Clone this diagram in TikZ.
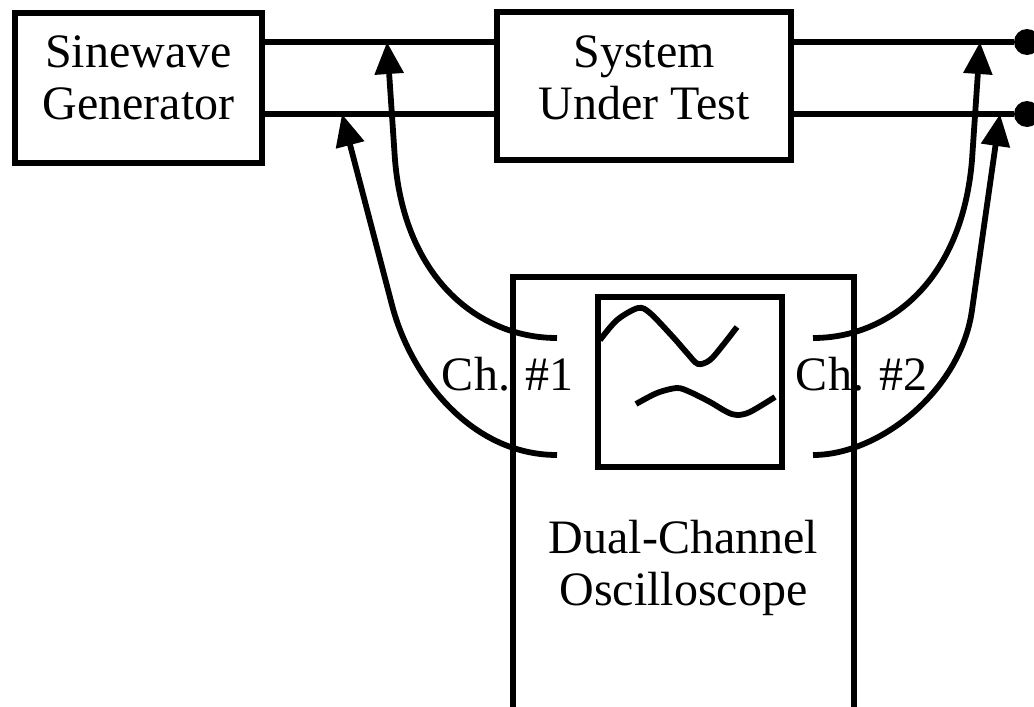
\documentclass[tikz,border=0pt]{standalone}
\usepackage{fontspec}
\setmainfont{Liberation Serif}
\usetikzlibrary{arrows.meta}
\newcommand{\figfont}{\fontsize{24}{26}\selectfont}
\tikzset{
  >={Triangle[length=16pt,width=14pt]},
  blk/.style  ={rectangle, draw, line width=3pt, inner sep=0pt},
  txt/.style  ={font=\figfont, align=center, inner sep=0pt},
  wire/.style ={draw, line width=3pt},
  probe/.style={->, draw, line width=2.9pt},
  trace/.style={draw, line width=2.9pt},
  term/.style ={circle, fill, inner sep=0pt, minimum size=13pt},
}

\begin{document}
\begin{tikzpicture}[x=0.5pt,y=-0.5pt]
\useasboundingbox (0,0) rectangle (1034,707);
\clip (0,0) rectangle (1034,707);
\node[blk, minimum width=123.5pt, minimum height=75pt] (gen) at (138.5,88) {};
\node[txt] (gentxt) at (138.5,77.5) {Sinewave\\Generator};
\node[blk, minimum width=147pt, minimum height=74pt] (sut) at (644,86) {};
\node[txt] (suttxt) at (644,77.5) {System\\Under Test};
\node[term] (outa) at (1027,42) {};
\node[term] (outb) at (1027,114) {};
\draw[wire] (gen.east |- outa) -- (sut.west |- outa);
\draw[wire] (gen.east |- outb) -- (sut.west |- outb);
\draw[wire] (sut.east |- outa) -- (outa);
\draw[wire] (sut.east |- outb) -- (outb);

\node[blk, minimum width=170.5pt, minimum height=250pt] (scope) at (683.5,527) {};
\node[blk, minimum width=92pt, minimum height=85pt] (screen) at (690,382) {};
\node[txt] (scopetxt) at (683.5,567.5) {Dual-Channel\\Oscilloscope};
\node[txt, anchor=base] (ch1) at (508,390) {Ch. \#1};
\node[txt, anchor=base] (ch2) at (862,390) {Ch. \#2};

\draw[trace] plot[smooth] coordinates {(600,340) (617,320) (638,308) (650,313) (673,337) (687,353) (698,364) (710,360) (723,345) (737,327)};
\draw[trace] plot[smooth] coordinates {(636,404) (657,393) (677,388) (690,392) (710,402) (727,412) (737,415) (750,412) (775,397)};

\coordinate (ch1a) at (557,338);
\coordinate (ch1b) at (557,455);
\coordinate (ch2a) at (813,338);
\coordinate (ch2b) at (813,455);
\coordinate (tapa) at (387,42);
\coordinate (tapb) at (342,114);
\coordinate (tapc) at (980,42);
\coordinate (tapd) at (1000,114);
\draw[probe] (ch1a) .. controls (480,338) and (405,280) .. (395,160) -- (tapa);
\draw[probe] (ch1b) .. controls (470,455) and (410,375) .. (392,305) -- (tapb);
\draw[probe] (ch2a) .. controls (890,338) and (962,280) .. (972,160) -- (tapc);
\draw[probe] (ch2b) .. controls (880,455) and (961,390) .. (972,310) -- (tapd);
\end{tikzpicture}
\end{document}
